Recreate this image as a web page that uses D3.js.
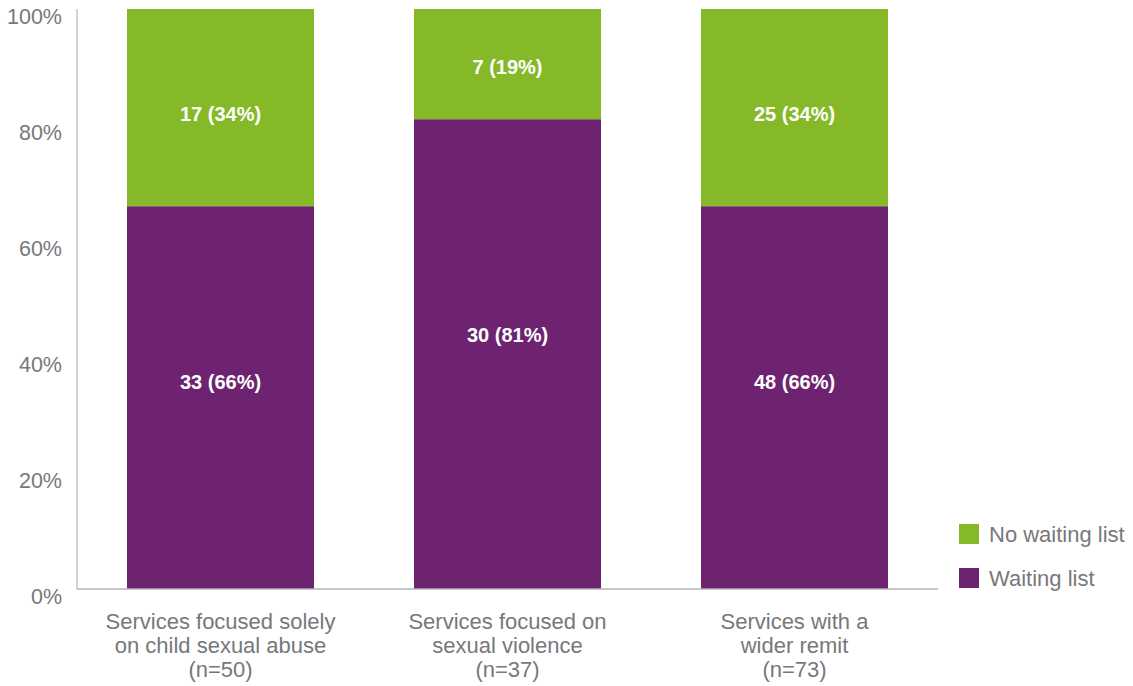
<!DOCTYPE html>
<html>
<head>
<meta charset="utf-8">
<script src="https://cdn.jsdelivr.net/npm/d3@7"></script>
<style>
  html, body { margin: 0; padding: 0; background: #fff; }
  svg { display: block; font-family: "Liberation Sans", Arial, Helvetica, sans-serif; }
</style>
</head>
<body>
<svg id="chart" width="1133" height="686"></svg>
<script>
// Service groups (each label split into lines)
const categories = [
  ["Services focused solely", "on child sexual abuse", "(n=50)"],
  ["Services focused on", "sexual violence", "(n=37)"],
  ["Services with a", "wider remit", "(n=73)"]
];
// Counts per group
const waitingList   = [33, 30, 48];
const noWaitingList = [17, 7, 25];
// Shares shown in the labels (percent)
const waitingPct   = [66, 81, 66];
const noWaitingPct = [34, 19, 34];
const yTicks = [0, 20, 40, 60, 80, 100];
const seriesNames = ["No waiting list", "Waiting list"];

const colors = { wait: "#6d2370", noWait: "#86b928", text: "#77787b", axis: "#b5b5b5" };

const svg = d3.select("#chart");
const plot = { left: 77, right: 938, top: 9, bottom: 589 };

const x = d3.scaleBand()
  .domain(d3.range(categories.length))
  .range([plot.left, plot.right])
  .paddingInner(0.3484)
  .paddingOuter(0.1742);

const y = d3.scaleLinear().domain([0, 100]).range([plot.bottom, plot.top]);

// Stacked rows: waiting list at the bottom, no waiting list on top
const rows = categories.map((c, i) => ({
  i,
  wait: waitingPct[i], noWait: noWaitingPct[i],
  waitN: waitingList[i], noWaitN: noWaitingList[i]
}));
const stack = d3.stack().keys(["wait", "noWait"])(rows);

const g = svg.append("g");
stack.forEach(layer => {
  g.selectAll(null).data(layer).enter().append("rect")
    .attr("x", d => x(d.data.i))
    .attr("width", x.bandwidth())
    .attr("y", d => y(d[1]))
    .attr("height", d => y(d[0]) - y(d[1]))
    .attr("fill", layer.key === "wait" ? colors.wait : colors.noWait);
});

// Value labels inside the segments
stack.forEach(layer => {
  const frac = layer.key === "wait" ? 0.54 : 0.47;
  g.selectAll(null).data(layer).enter().append("text")
    .attr("x", d => x(d.data.i) + x.bandwidth() / 2)
    .attr("y", d => y(d[0] + (d[1] - d[0]) * frac))
    .attr("dy", "0.35em")
    .attr("text-anchor", "middle")
    .attr("fill", "#fff")
    .attr("font-weight", "bold")
    .attr("font-size", 20)
    .text(d => layer.key === "wait"
      ? `${d.data.waitN} (${d.data.wait}%)`
      : `${d.data.noWaitN} (${d.data.noWait}%)`);
});

// Y axis line and baseline
svg.append("line")
  .attr("x1", plot.left).attr("x2", plot.left)
  .attr("y1", y(100)).attr("y2", y(0))
  .attr("stroke", colors.axis).attr("stroke-width", 1.2);
svg.append("line")
  .attr("x1", plot.left).attr("x2", plot.right)
  .attr("y1", y(0)).attr("y2", y(0))
  .attr("stroke", colors.axis).attr("stroke-width", 1.5);

// Y tick labels
svg.selectAll(".ytick").data(yTicks).enter().append("text")
  .attr("class", "ytick")
  .attr("x", 62)
  .attr("y", d => y(d) + 15)
  .attr("text-anchor", "end")
  .attr("fill", colors.text)
  .attr("font-size", 21.5)
  .text(d => d + "%");

// Category labels
const cat = svg.selectAll(".cat").data(categories).enter().append("text")
  .attr("class", "cat")
  .attr("text-anchor", "middle")
  .attr("fill", colors.text)
  .attr("font-size", 22);
cat.each(function(lines, i) {
  d3.select(this).selectAll("tspan").data(lines).enter().append("tspan")
    .attr("x", x(i) + x.bandwidth() / 2)
    .attr("y", (d, k) => y(0) + 40 + k * 24)
    .text(d => d);
});

// Legend
const legend = svg.append("g").attr("transform", "translate(959,524)");
const legendColors = [colors.noWait, colors.wait];
seriesNames.forEach((name, k) => {
  const row = legend.append("g").attr("transform", `translate(0,${k * 44})`);
  row.append("rect").attr("width", 20).attr("height", 20).attr("fill", legendColors[k]);
  row.append("text").attr("x", 30).attr("y", 18)
    .attr("fill", colors.text).attr("font-size", 22).text(name);
});
</script>
</body>
</html>
